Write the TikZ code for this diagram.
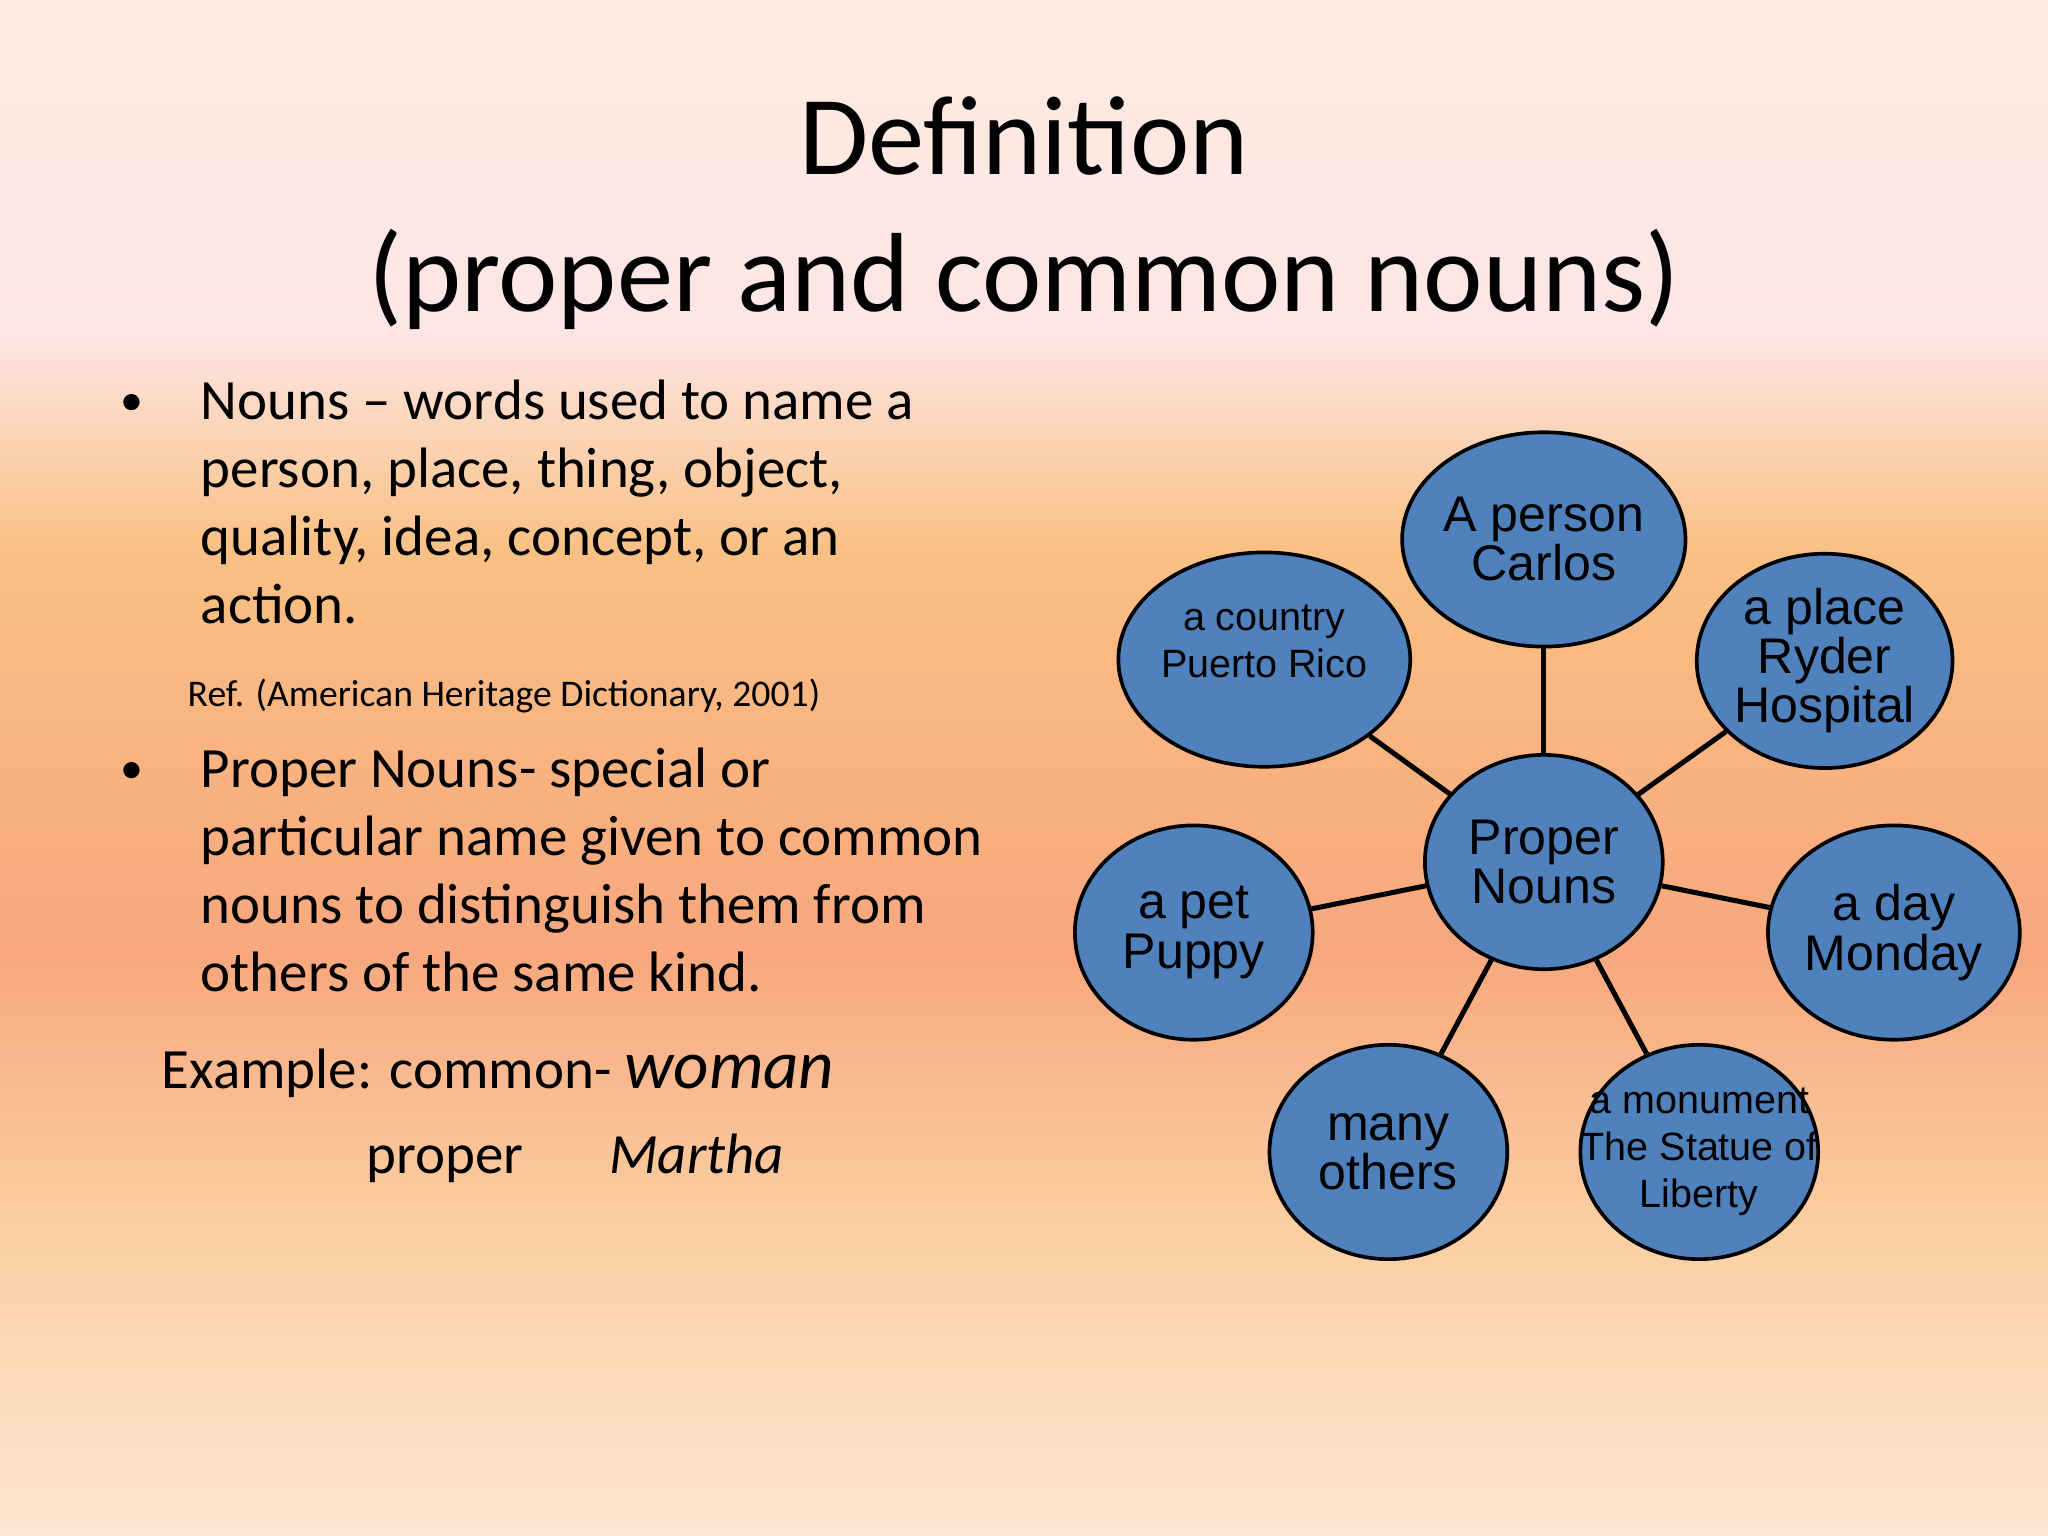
\documentclass[tikz,border=0pt]{standalone}
\usepackage{fontspec}
\setmainfont{Carlito}
\newfontfamily\arialf{Liberation Sans}
\usetikzlibrary{shapes.geometric}
\definecolor{bga}{HTML}{FDE5D2}
\definecolor{bgb}{HTML}{FBCFA2}
\definecolor{bgd}{HTML}{F8A77E}
\definecolor{bgc}{HTML}{F9C083}
\definecolor{bgf}{HTML}{FDE6E6}
\definecolor{bge}{HTML}{FDEBDF}
\definecolor{nodeblue}{HTML}{4F81BD}
\pgfdeclareverticalshading{bgshade}{100bp}{
 color(0bp)=(bga);
 color(25bp)=(bga);
 color(35bp)=(bgb);
 color(44bp)=(bgd);
 color(57bp)=(bgc);
 color(64.4bp)=(bgf);
 color(75bp)=(bge);
 color(100bp)=(bge)}
\begin{document}
\begin{tikzpicture}[x=0.01cm,y=-0.01cm,
 bub/.style={ellipse,draw=black,line width=0.8pt,fill=nodeblue,minimum width=1.82cm,minimum height=1.64cm,inner sep=0pt,align=center,font=\arialf\fontsize{10.9}{10.7}\selectfont},
 sbub/.style={bub,font=\arialf\fontsize{8.6}{10.2}\selectfont},
 link/.style={line width=1.1pt}]
\fill[shading=bgshade] (0,0) rectangle (1568,1176);
\path[use as bounding box] (0,0) rectangle (1568,1176);
\node (t) at (784,165) {\fontsize{24.5}{30}\selectfont\begin{tabular}{c}Definition\\(proper and common nouns)\end{tabular}};
\node (b1) at (101,310) {\fontsize{10}{14}\selectfont •};
\node[anchor=north west,align=left,inner sep=0pt,font=\fontsize{12.4}{14.8}\selectfont] (tx1) at (153,290) {Nouns -- words used to name a\\person, place, thing, object,\\quality, idea, concept, or an\\action.};
\node[anchor=west,inner sep=0pt,font=\fontsize{8.2}{9}\selectfont] (ref) at (143,533) {Ref. (American Heritage Dictionary, 2001)};
\node (b2) at (101,592) {\fontsize{10}{14}\selectfont •};
\node[anchor=north west,align=left,inner sep=0pt,font=\fontsize{12.4}{14.8}\selectfont] (tx2) at (153,572) {Proper Nouns- special or\\particular name given to common\\nouns to distinguish them from\\others of the same kind.};
\node[anchor=west,inner sep=0pt,font=\fontsize{12.4}{14}\selectfont] (ex) at (123,822) {Example: common- {\fontsize{15}{14}\selectfont\itshape woman}};
\node[anchor=west,inner sep=0pt,font=\fontsize{12.4}{14}\selectfont] (pr) at (280,887) {proper\hspace{1.5em}{\itshape Martha}};
\node[bub] (c) at (1182,660) {Proper\\Nouns};
\node[bub] (p1) at (1182,413) {A person\\Carlos};
\node[sbub] (p2) at (968,505) {a country\\Puerto Rico\\[-0.6em]\strut};
\node[bub] (p3) at (1397,506) {a place\\Ryder\\Hospital};
\node[bub] (p4) at (914,714) {a pet\\Puppy};
\node[bub] (p5) at (1450,714) {a day\\Monday};
\node[bub] (p6) at (1063,882) {many\\others};
\node[sbub,inner xsep=-0.35cm] (p7) at (1301,882) {a monument\\The Statue of\\Liberty};
\foreach \n in {p1,p2,p3,p4,p5,p6,p7} \draw[link] (c) -- (\n);
\end{tikzpicture}
\end{document}
